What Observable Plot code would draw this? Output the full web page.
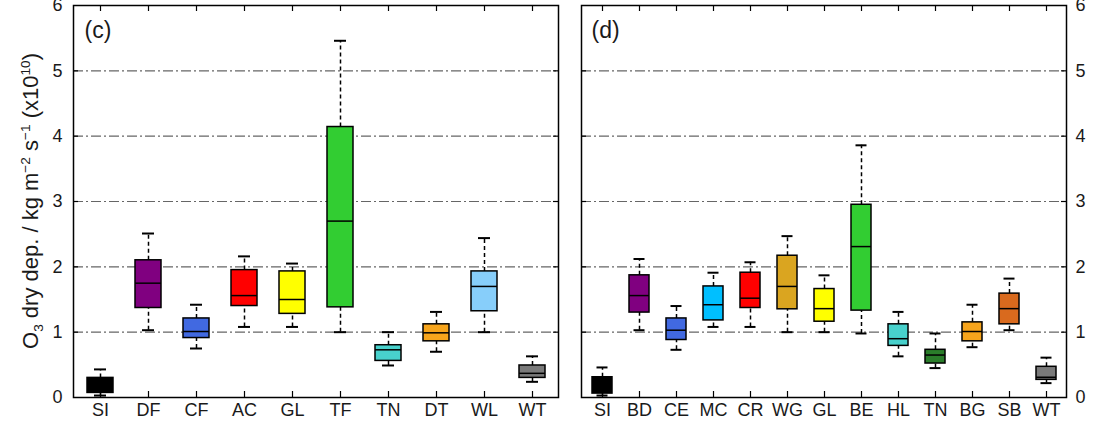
<!DOCTYPE html>
<html><head><meta charset="utf-8">
<script src="https://cdn.jsdelivr.net/npm/d3@7"></script>
<script src="https://cdn.jsdelivr.net/npm/@observablehq/plot@0.6"></script>
<style>
body{margin:0;background:#fff;font-family:"Liberation Sans",Arial,sans-serif;}
#wrap{position:relative;width:1095px;height:432px;overflow:hidden;background:#fff;}
#left{position:absolute;left:0;top:0;}
#right{position:absolute;left:560px;top:0;}
#ylab{position:absolute;left:31px;top:201px;transform:translate(-50%,-50%) rotate(-90deg);font-size:22px;white-space:nowrap;color:#1a1a1a;line-height:1;}
#ylab sup,#ylab sub{font-size:0.62em;line-height:0;}
</style></head><body>
<div id="wrap"><div id="left"></div><div id="right"></div>
<div id="ylab">O<sub>3</sub> dry dep. / kg m<sup>−2</sup> s<sup>−1</sup> (x10<sup>10</sup>)</div></div>
<script>
// Panel (c)
const catsC = ["SI","DF","CF","AC","GL","TF","TN","DT","WL","WT"];
const minC  = [0.03, 1.03, 0.75, 1.08, 1.08, 1.00, 0.49, 0.70, 1.00, 0.24];
const q1C   = [0.07, 1.37, 0.91, 1.40, 1.28, 1.38, 0.56, 0.86, 1.32, 0.30];
const medC  = [0.15, 1.75, 1.01, 1.56, 1.50, 2.70, 0.73, 0.99, 1.70, 0.37];
const q3C   = [0.30, 2.10, 1.21, 1.95, 1.93, 4.14, 0.80, 1.12, 1.93, 0.49];
const maxC  = [0.43, 2.51, 1.42, 2.16, 2.05, 5.46, 1.00, 1.31, 2.44, 0.63];
const colorsC = ["#000000","#800080","#4169e1","#ff0000","#ffff00","#32cd32","#48d1cc","#f7a51c","#87cefa","#7a7a7a"];

// Panel (d)
const catsD = ["SI","BD","CE","MC","CR","WG","GL","BE","HL","TN","BG","SB","WT"];
const minD  = [0.03, 1.03, 0.73, 1.08, 1.08, 1.00, 1.00, 0.98, 0.63, 0.45, 0.77, 1.03, 0.22];
const q1D   = [0.06, 1.30, 0.88, 1.18, 1.37, 1.35, 1.16, 1.33, 0.79, 0.52, 0.86, 1.12, 0.27];
const medD  = [0.15, 1.56, 1.03, 1.42, 1.52, 1.70, 1.36, 2.31, 0.90, 0.65, 1.01, 1.36, 0.31];
const q3D   = [0.31, 1.87, 1.21, 1.70, 1.91, 2.17, 1.66, 2.95, 1.12, 0.73, 1.15, 1.59, 0.47];
const maxD  = [0.46, 2.12, 1.40, 1.91, 2.07, 2.47, 1.87, 3.86, 1.31, 0.98, 1.42, 1.82, 0.61];
const colorsD = ["#000000","#800080","#4169e1","#00bfff","#ff0000","#daa520","#ffff00","#32cd32","#48d1cc","#2a7d2a","#f7a51c","#d96a1e","#7a7a7a"];

const yTicks = [0,1,2,3,4,5,6];
const gridVals = [1,2,3,4,5];

function panel(cats, mins, q1s, meds, q3s, maxs, colors, o) {
  const rows = cats.map((c, i) => ({cat: c, min: mins[i], q1: q1s[i], med: meds[i], q3: q3s[i], max: maxs[i]}));
  const H = 432, mt = 5, mb = 35;
  const plotH = H - mt - mb;
  const plotW = o.width - o.ml - o.mr;
  return Plot.plot({
    width: o.width, height: H,
    marginLeft: o.ml, marginRight: o.mr, marginTop: mt, marginBottom: mb,
    style: {fontFamily: "'Liberation Sans', Arial, sans-serif", color: "#1a1a1a", background: "white", overflow: "visible"},
    x: {type: "band", domain: cats, paddingInner: 0.46, paddingOuter: 0.23},
    y: {domain: [0, 6]},
    color: {type: "ordinal", domain: cats, range: colors},
    marks: [
      Plot.ruleY(gridVals, {stroke: "#666", strokeWidth: 1.1, strokeDasharray: "10,3,2,3"}),
      Plot.tickY(gridVals, {insetRight: plotW - 5, stroke: "#000", strokeWidth: 1.2}),
      Plot.tickY(gridVals, {insetLeft: plotW - 5, stroke: "#000", strokeWidth: 1.2}),
      Plot.ruleX(rows, {x: "cat", y1: "q3", y2: "max", stroke: "#000", strokeWidth: 1.5, strokeDasharray: "4,3"}),
      Plot.ruleX(rows, {x: "cat", y1: "min", y2: "q1", stroke: "#000", strokeWidth: 1.5, strokeDasharray: "4,3"}),
      Plot.tickY(rows, {x: "cat", y: "max", insetLeft: o.cap, insetRight: o.cap, stroke: "#000", strokeWidth: 2}),
      Plot.tickY(rows, {x: "cat", y: "min", insetLeft: o.cap, insetRight: o.cap, stroke: "#000", strokeWidth: 2}),
      Plot.barY(rows, {x: "cat", y1: "q1", y2: "q3", fill: "cat", stroke: "#000", strokeWidth: 1.5}),
      Plot.tickY(rows, {x: "cat", y: "med", stroke: "#000", strokeWidth: 1.5}),
      Plot.tickX(cats, {x: d => d, insetTop: plotH - 6, stroke: "#000", strokeWidth: 1.2}),
      Plot.tickX(cats, {x: d => d, insetBottom: plotH - 6, stroke: "#000", strokeWidth: 1.2}),
      Plot.frame({stroke: "#000", strokeWidth: 1.5}),
      Plot.text([o.label], {text: d => d, frameAnchor: "top-left", dx: o.ldx, dy: 16, lineAnchor: "top", textAnchor: "start", fontSize: 23, fill: "#1a1a1a"}),
      Plot.axisX({tickSize: 0, tickPadding: 6, fontSize: 18, label: null}),
      Plot.axisY({anchor: o.yAnchor, ticks: yTicks, tickSize: 0, tickPadding: o.tp, fontSize: 18, label: null, tickFormat: d => String(d)})
    ]
  });
}

document.getElementById("left").append(
  panel(catsC, minC, q1C, medC, q3C, maxC, colorsC, {width: 560, ml: 73, mr: 2, cap: 7, label: "(c)", ldx: 11, yAnchor: "left", tp: 11})
);
document.getElementById("right").append(
  panel(catsD, minD, q1D, medD, q3D, maxD, colorsD, {width: 535, ml: 21, mr: 29, cap: 4.5, label: "(d)", ldx: 10, yAnchor: "right", tp: 9})
);
</script>
</body></html>
